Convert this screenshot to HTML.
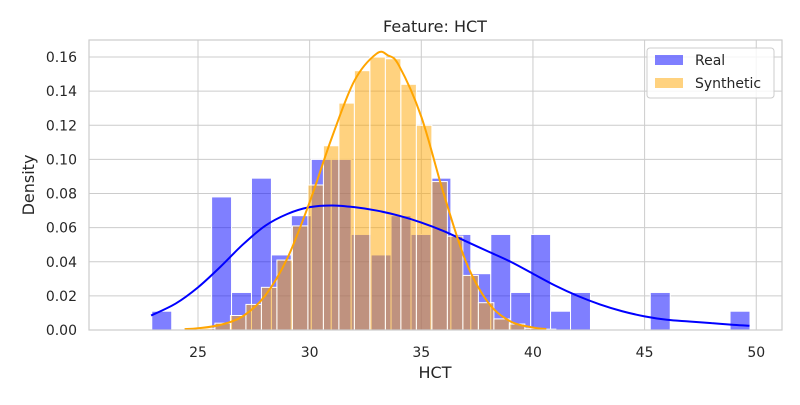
<!DOCTYPE html>
<html><head><meta charset="utf-8"><style>
body{margin:0;background:#fff;font-family:"Liberation Sans","DejaVu Sans",sans-serif}
svg text{font-family:"DejaVu Sans","Liberation Sans",sans-serif;fill:#262626}
</style></head><body>
<svg id="c" width="800" height="400"></svg>
<script>
const realStart=22.93, realWidth=0.893;
const realValues=[0.011,0,0,0.078,0.022,0.089,0.044,0.067,0.100,0.100,0.056,0.044,0.067,0.056,0.089,0.056,0.033,0.056,0.022,0.056,0.011,0.022,0,0,0,0.022,0,0,0,0.011];
const synStart=24.37, synWidth=0.694;
const synValues=[0.0005,0.001,0.004,0.0085,0.015,0.025,0.041,0.061,0.085,0.108,0.133,0.152,0.160,0.159,0.144,0.120,0.087,0.055,0.032,0.016,0.0065,0.0035,0.001,0.0005];
const realKdeX=[22.9,24,25,26,27,28,29,30,31,32,33,34,35,36,37,38,39,40,41,42,43,44,45,46,47,48,49,49.7];
const realKdeY=[0.0085,0.0155,0.025,0.037,0.050,0.061,0.068,0.072,0.073,0.072,0.070,0.067,0.063,0.058,0.052,0.046,0.040,0.033,0.026,0.020,0.015,0.011,0.008,0.006,0.005,0.004,0.003,0.0025];
const synKdeX=[24.4,25,26,27,28,29,30,31,32,33,33.5,34,35,36,37,38,39,40,40.6];
const synKdeY=[0.0005,0.001,0.003,0.008,0.02,0.042,0.075,0.113,0.146,0.162,0.161,0.155,0.125,0.080,0.040,0.016,0.005,0.0015,0.0005];
const xTicks=[25,30,35,40,45,50];
const yTicks=[0,0.02,0.04,0.06,0.08,0.10,0.12,0.14,0.16];

const NS="http://www.w3.org/2000/svg", svg=document.getElementById('c');
const L=89,R=782,T=40,B=330;
const sx=v=>198+(v-25)*22.33;
const sy=v=>B-v*1706;
function mk(t,a,p){const e=document.createElementNS(NS,t);for(const k in a)e.setAttribute(k,a[k]);(p||svg).appendChild(e);return e;}
mk('rect',{x:L,y:T,width:R-L,height:B-T,fill:'#fff'});
const grid=mk('g',{});


xTicks.forEach(v=>{mk('line',{x1:sx(v),x2:sx(v),y1:T,y2:B,stroke:'#cccccc','stroke-width':1},grid);
 const t=mk('text',{x:sx(v),y:357,'text-anchor':'middle','font-size':14});t.textContent=v;
 
 });
yTicks.forEach(v=>{mk('line',{x1:L,x2:R,y1:sy(v),y2:sy(v),stroke:'#cccccc','stroke-width':1},grid);
 const t=mk('text',{x:77,y:sy(v)+5,'text-anchor':'end','font-size':14});t.textContent=v.toFixed(2);
 
 });
function bars(start,w,vals,fill,name){
 const g=mk('g',{});
 
 
 vals.forEach((v,i)=>{if(v<=0)return;const x0=sx(start+i*w),x1=sx(start+(i+1)*w);
  const r=mk('rect',{x:x0,y:sy(v),width:x1-x0,height:B-sy(v),fill:fill,'fill-opacity':0.5,stroke:'#fff','stroke-width':1},g);
  
  });
}
bars(realStart,realWidth,realValues,'#0000ff','real-bars');
bars(synStart,synWidth,synValues,'#ffa500','synthetic-bars');
function curve(xs,ys,col,name){
 const p=xs.map((x,i)=>[sx(x),sy(ys[i])]);let d='M'+p[0][0]+','+p[0][1];
 for(let i=0;i<p.length-1;i++){const p0=p[i-1]||p[i],p1=p[i],p2=p[i+1],p3=p[i+2]||p2;
  d+=` C${p1[0]+(p2[0]-p0[0])/6},${p1[1]+(p2[1]-p0[1])/6} ${p2[0]-(p3[0]-p1[0])/6},${p2[1]-(p3[1]-p1[1])/6} ${p2[0]},${p2[1]}`;}
 const e=mk('path',{d:d,fill:'none',stroke:col,'stroke-width':2});
 
 
}
curve(realKdeX,realKdeY,'#0000ff','real-kde-line');
curve(synKdeX,synKdeY,'#ffa500','synthetic-kde-line');
mk('rect',{x:L,y:T,width:R-L,height:B-T,fill:'none',stroke:'#cccccc','stroke-width':1.2});
</script>
<svg width="800" height="400" style="position:absolute;left:0;top:0">
<text x="435" y="32" text-anchor="middle" font-size="16">Feature: HCT</text>
<text x="435" y="378" text-anchor="middle" font-size="16">HCT</text>
<text transform="translate(34,185) rotate(-90)" text-anchor="middle" font-size="16">Density</text>
<g>
<rect x="647" y="48" width="127" height="50" rx="3" fill="#fff" fill-opacity="0.8" stroke="#cccccc"/>
<rect x="655" y="55" width="28" height="10" fill="#0000ff" fill-opacity="0.5"/>
<text x="695" y="65" font-size="14">Real</text>
<rect x="655" y="78" width="28" height="10" fill="#ffa500" fill-opacity="0.5"/>
<text x="695" y="88" font-size="14">Synthetic</text>
</g>
</svg>
</body></html>
